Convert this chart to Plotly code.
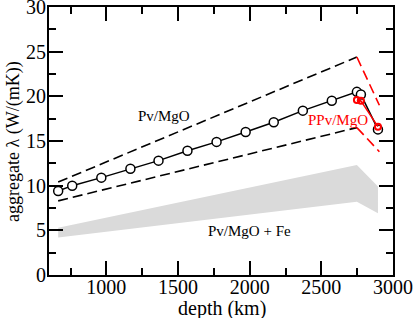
import plotly.graph_objects as go

# Pv/MgO aggregate conductivity (black open circles, solid line)
depth_pv = [664, 762, 965, 1168, 1364, 1566, 1769, 1972, 2168, 2371, 2573, 2748, 2776, 2895]
lam_pv = [9.4, 10.0, 10.9, 11.9, 12.8, 13.9, 14.9, 16.0, 17.1, 18.4, 19.5, 20.5, 20.2, 16.3]

# PPv/MgO (red)
depth_ppv = [2748, 2776, 2895]
lam_ppv = [19.6, 19.5, 16.6]

# Uncertainty bounds (dashed)
depth_bound = [664, 2748]
upper_bound = [10.4, 24.4]
lower_bound = [8.3, 16.5]
depth_ppv_bound = [2748, 2905]
ppv_upper = [24.4, 19.0]
ppv_lower = [16.5, 13.8]

# Pv/MgO + Fe band
depth_fe = [664, 2748, 2895]
fe_top = [5.3, 12.3, 9.9]
fe_bottom = [4.2, 8.2, 6.9]

FONT = "Liberation Serif"

fig = go.Figure()

# gray band
fig.add_trace(go.Scatter(
    x=depth_fe + depth_fe[::-1], y=fe_top + fe_bottom[::-1],
    fill="toself", fillcolor="#dadada", line=dict(width=0), mode="lines",
    hoverinfo="skip", showlegend=False))

dash = "10px,5px"
fig.add_trace(go.Scatter(x=depth_bound, y=upper_bound, mode="lines",
                         line=dict(color="black", width=1.6, dash=dash), showlegend=False))
fig.add_trace(go.Scatter(x=depth_bound, y=lower_bound, mode="lines",
                         line=dict(color="black", width=1.6, dash=dash), showlegend=False))
fig.add_trace(go.Scatter(x=depth_ppv_bound, y=ppv_upper, mode="lines",
                         line=dict(color="red", width=1.6, dash=dash), showlegend=False))
fig.add_trace(go.Scatter(x=depth_ppv_bound, y=ppv_lower, mode="lines",
                         line=dict(color="red", width=1.6, dash=dash), showlegend=False))

fig.add_trace(go.Scatter(x=depth_pv, y=lam_pv, mode="lines+markers",
                         line=dict(color="black", width=1.5),
                         marker=dict(symbol="circle", size=9, color="white",
                                     line=dict(color="black", width=1.5)),
                         showlegend=False))
fig.add_trace(go.Scatter(x=depth_ppv, y=lam_ppv, mode="lines+markers",
                         line=dict(color="red", width=1.5),
                         marker=dict(symbol="circle", size=6, color="rgba(255,255,255,0)",
                                     line=dict(color="red", width=2)),
                         showlegend=False))

fig.add_annotation(x=1399, y=17.8, text="Pv/MgO", showarrow=False,
                   font=dict(family=FONT, size=15, color="black"))
fig.add_annotation(x=2000, y=4.9, text="Pv/MgO + Fe", showarrow=False,
                   font=dict(family=FONT, size=15, color="black"))
fig.add_annotation(x=2615, y=17.4, text="PPv/MgO", showarrow=False,
                   font=dict(family=FONT, size=15, color="red"))

# axis titles as paper-positioned annotations
fig.add_annotation(x=0.503, y=-0.125, xref="paper", yref="paper", text="depth (km)",
                   showarrow=False, xanchor="center", yanchor="middle",
                   font=dict(family=FONT, size=20, color="black"))
fig.add_annotation(x=-0.105, y=0.5, xref="paper", yref="paper", text="aggregate λ (W/(mK))",
                   showarrow=False, xanchor="center", yanchor="middle", textangle=-90,
                   font=dict(family=FONT, size=18, color="black"))

axis_common = dict(
    showgrid=False, zeroline=False, showline=True, linecolor="black", linewidth=2,
    mirror="allticks", ticks="inside", ticklen=14, tickwidth=2, tickcolor="black",
    tickfont=dict(family=FONT, size=20, color="black"), ticklabeloverflow="allow",
    automargin=False,
)

fig.update_xaxes(range=[600, 3000], tickvals=[1000, 1500, 2000, 2500, 3000],
                 minor=dict(tickvals=[750, 1250, 1750, 2250, 2750], ticks="inside",
                            ticklen=7, tickwidth=2, tickcolor="black"),
                 ticklabelstandoff=-7,
                 **axis_common)
fig.update_yaxes(range=[0, 30], tickvals=[0, 5, 10, 15, 20, 25, 30],
                 minor=dict(tickvals=[2.5, 7.5, 12.5, 17.5, 22.5, 27.5], ticks="inside",
                            ticklen=7, tickwidth=2, tickcolor="black"),
                 ticklabelstandoff=-3,
                 **axis_common)

fig.update_layout(width=415, height=318, margin=dict(l=49, r=22, t=7, b=43),
                  paper_bgcolor="white", plot_bgcolor="white")

fig.write_html("out.html", config={"displayModeBar": False},
               post_script="document.body.style.margin='0';document.body.style.overflow='hidden';")
